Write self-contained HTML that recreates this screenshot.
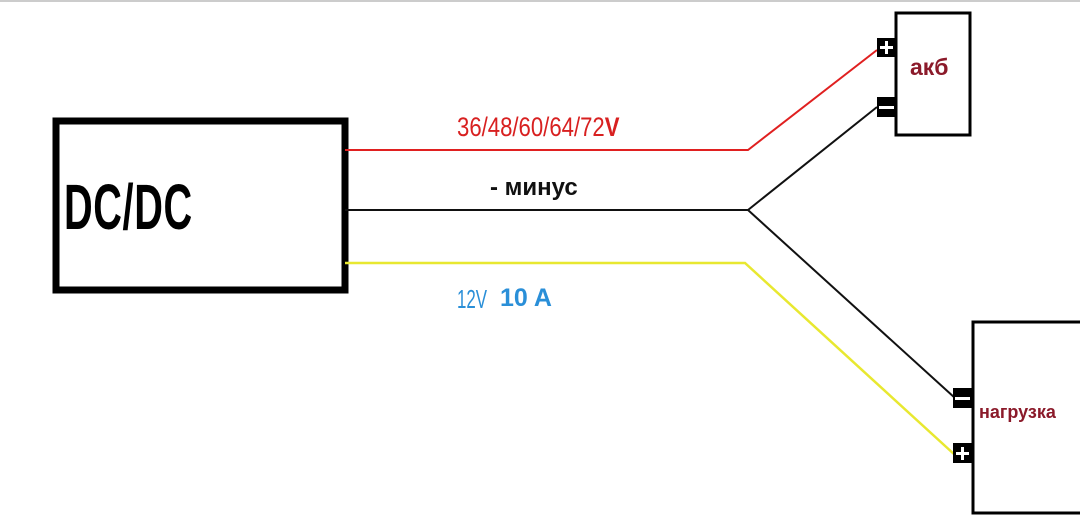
<!DOCTYPE html>
<html><head><meta charset="utf-8"><style>
body{margin:0;width:1080px;height:524px;background:#fff;overflow:hidden;position:relative;font-family:"Liberation Sans",sans-serif}
.t{position:absolute;white-space:nowrap}
</style></head><body>
<svg width="1080" height="524" style="position:absolute;left:0;top:0">
<line x1="0" y1="1" x2="1080" y2="1" stroke="#ccc" stroke-width="2"/>
<rect x="56" y="121" width="289" height="169" fill="#fff" stroke="#000" stroke-width="7"/>
<polyline points="345,150 748,150 877,50" fill="none" stroke="#e02020" stroke-width="2"/>
<polyline points="345,210 748,210 877,107" fill="none" stroke="#111" stroke-width="2"/>
<line x1="748" y1="210" x2="955" y2="398" stroke="#111" stroke-width="2"/>
<polyline points="345,263 745,263 955,455" fill="none" stroke="#e8e830" stroke-width="2.5"/>
<rect x="896" y="13" width="74" height="122" fill="#fff" stroke="#000" stroke-width="3"/>
<rect x="877" y="38" width="19" height="19" fill="#000"/>
<rect x="880" y="46" width="13" height="3" fill="#fff"/><rect x="885" y="41" width="3" height="13" fill="#fff"/>
<rect x="877" y="97" width="19" height="20" fill="#000"/>
<rect x="879" y="106" width="15" height="3" fill="#fff"/>
<path d="M1080 322 H973 V513 H1080" fill="none" stroke="#000" stroke-width="3"/>
<rect x="953" y="388" width="19" height="20" fill="#000"/>
<rect x="955" y="397" width="15" height="3" fill="#fff"/>
<rect x="953" y="443" width="19" height="20" fill="#000"/>
<rect x="956" y="452" width="13" height="3" fill="#fff"/><rect x="961" y="447" width="3" height="13" fill="#fff"/>
</svg>
<div class="t" style="left:64px;top:170px;font-size:64px;font-weight:bold;transform:scaleX(0.62);transform-origin:0 0;letter-spacing:1px">DC/DC</div>
<div class="t" style="left:457px;top:112px;font-size:27px;color:#d82020;transform:scaleX(0.82);transform-origin:0 0">36/48/60/64/72<b>V</b></div>
<div class="t" style="left:490px;top:174px;font-size:24px;font-weight:bold;color:#111">- минус</div>
<div class="t" style="left:457px;top:284px;font-size:26px;color:#2a8fd8;transform:scaleX(0.65);transform-origin:0 0">12V</div>
<div class="t" style="left:500px;top:284px;font-size:25px;font-weight:bold;color:#2a8fd8">10 A</div>
<div class="t" style="left:910px;top:54px;font-size:23px;font-weight:bold;color:#8b1a2a">акб</div>
<div class="t" style="left:979px;top:402px;font-size:18px;font-weight:bold;color:#8b1a2a">нагрузка</div>
</body></html>
